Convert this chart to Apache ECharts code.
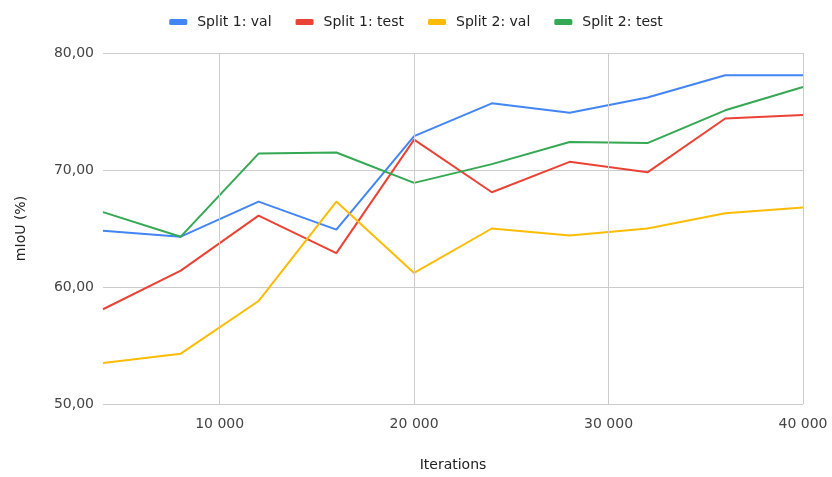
<!DOCTYPE html>
<html>
<head>
<meta charset="utf-8">
<script src="https://cdn.jsdelivr.net/npm/echarts@6/dist/echarts.min.js"></script>
<style>
  html, body { margin: 0; padding: 0; background: #fff; }
  #chart { width: 832px; height: 477px; }
</style>
</head>
<body>
<div id="chart"></div>
<script>
// Training iterations at which each split was evaluated
const iterations = [4000, 8000, 12000, 16000, 20000, 24000, 28000, 32000, 36000, 40000];

// mIoU (%) per evaluation
const split1Val  = [64.8, 64.3, 67.3, 64.9, 72.9, 75.7, 74.9, 76.2, 78.1, 78.1];
const split1Test = [58.1, 61.4, 66.1, 62.9, 72.6, 68.1, 70.7, 69.8, 74.4, 74.7];
const split2Val  = [53.5, 54.3, 58.8, 67.3, 61.2, 65.0, 64.4, 65.0, 66.3, 66.8];
const split2Test = [66.4, 64.3, 71.4, 71.5, 68.9, 70.5, 72.4, 72.3, 75.1, 77.1];

const seriesNames = ['Split 1: val', 'Split 1: test', 'Split 2: val', 'Split 2: test'];
const seriesValues = [split1Val, split1Test, split2Val, split2Test];
const colors = ['#4285F4', '#EA4335', '#FBBC04', '#34A853'];

// Tick values
const xTicks = [10000, 20000, 30000, 40000];
const yTicks = [50, 60, 70, 80];

const FONT = '"DejaVu Sans", Verdana, sans-serif';

const fmtThousands = v => String(v).replace(/\B(?=(\d{3})+(?!\d))/g, ' ');
const fmtDecimal = v => v.toFixed(2).replace('.', ',');

const series = seriesNames.map((name, i) => ({
  name,
  type: 'line',
  data: iterations.map((x, j) => [x, seriesValues[i][j]]),
  showSymbol: false,
  symbol: 'none',
  lineStyle: { width: 2, color: colors[i] },
  itemStyle: { color: colors[i] },
  z: 3
}));

// Vertical gridlines at the labelled iteration ticks
series.push({
  name: 'grid',
  type: 'line',
  data: [],
  silent: true,
  z: 1,
  markLine: {
    silent: true,
    symbol: ['none', 'none'],
    label: { show: false },
    lineStyle: { color: '#cccccc', width: 1, type: 'solid' },
    data: xTicks.map(v => ({ xAxis: v }))
  }
});

const chart = echarts.init(document.getElementById('chart'), null, { renderer: 'canvas' });
chart.setOption({
  animation: false,
  backgroundColor: '#ffffff',
  textStyle: { fontFamily: FONT },
  legend: {
    data: seriesNames,
    left: 'center',
    top: 10,
    itemWidth: 18,
    itemHeight: 6,
    itemGap: 24,
    icon: 'roundRect',
    textStyle: { fontFamily: FONT, fontSize: 14, color: '#222222', padding: [0, 0, 0, 5] }
  },
  grid: { left: 103, right: 29, top: 53, bottom: 66, containLabel: false },
  xAxis: {
    type: 'value',
    min: 4000,
    max: 40000,
    name: 'Iterations',
    nameLocation: 'middle',
    nameGap: 54,
    nameTextStyle: { fontFamily: FONT, fontSize: 14, color: '#222222' },
    axisLine: { show: false },
    axisTick: { show: false },
    splitLine: { show: false },
    axisLabel: {
      customValues: xTicks,
      formatter: fmtThousands,
      fontFamily: FONT,
      fontSize: 14,
      color: '#444444',
      margin: 13
    }
  },
  yAxis: {
    type: 'value',
    min: yTicks[0],
    max: yTicks[yTicks.length - 1],
    interval: 10,
    name: 'mIoU (%)',
    nameLocation: 'middle',
    nameGap: 75,
    nameRotate: 90,
    nameTextStyle: { fontFamily: FONT, fontSize: 14, color: '#222222' },
    axisLine: { show: false },
    axisTick: { show: false },
    splitLine: { lineStyle: { color: '#cccccc', width: 1 } },
    axisLabel: {
      formatter: fmtDecimal,
      fontFamily: FONT,
      fontSize: 14,
      color: '#444444',
      margin: 9
    }
  },
  series
});
</script>
</body>
</html>
